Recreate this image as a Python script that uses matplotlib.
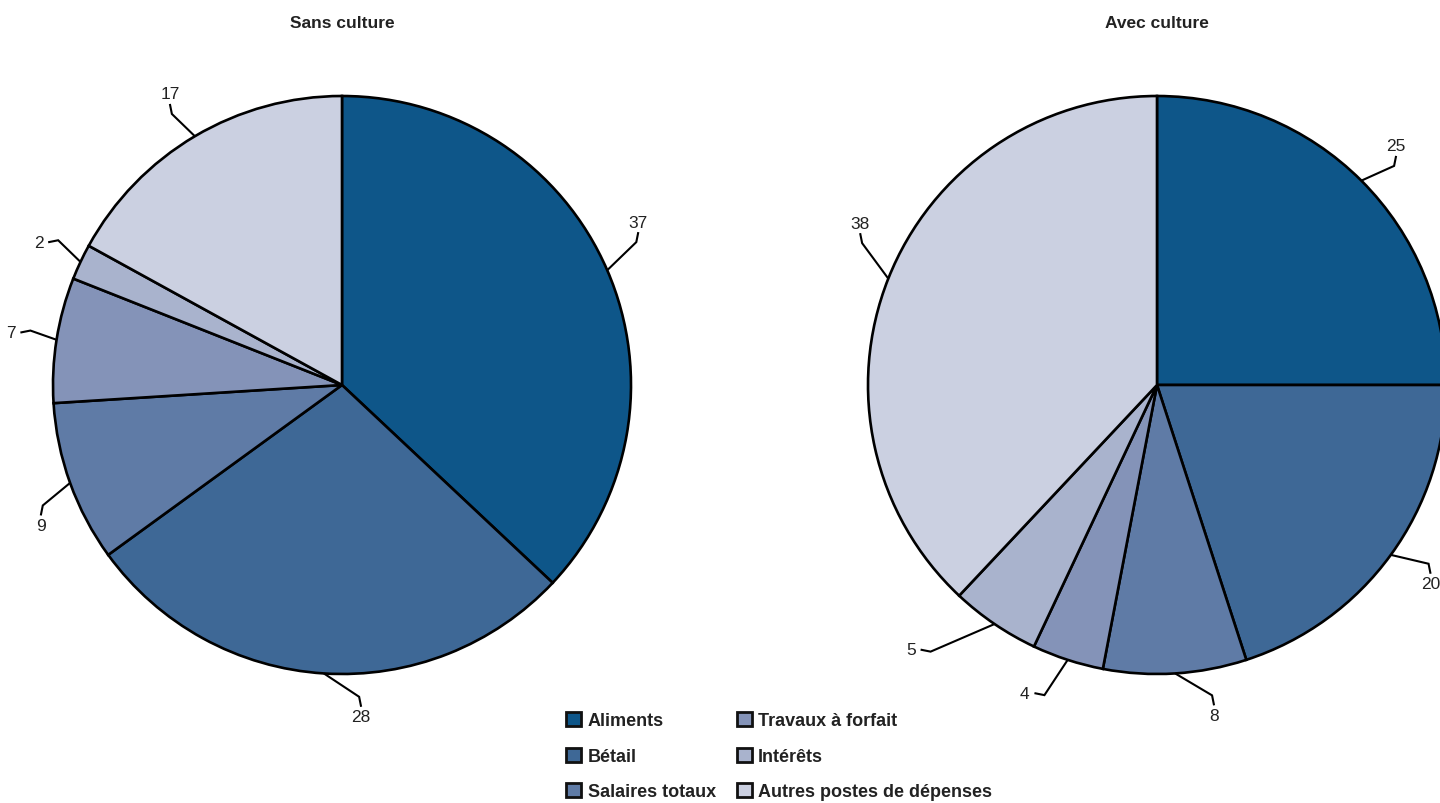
import numpy as np
import matplotlib
matplotlib.use("Agg")
import matplotlib.pyplot as plt
from matplotlib.patches import Patch

plt.rcParams['font.family'] = ['Liberation Sans Narrow', 'Liberation Sans', 'DejaVu Sans']

# Expense shares (%) by category
categories = ["Aliments", "Bétail", "Salaires totaux",
              "Travaux à forfait", "Intérêts", "Autres postes de dépenses"]
sans_culture = [37, 28, 9, 7, 2, 17]
avec_culture = [25, 20, 8, 4, 5, 38]
titles = ["Sans culture", "Avec culture"]

colors = ["#0e5689", "#3e6896", "#5f7ba6", "#8493b8", "#a9b3cd", "#cbd0e1"]

# label placement tweaks (degrees added to slice mid-angle, radius factor)
label_shift = [
    [5.4, 6.9, 5.2, 0.0, 0.0, 0.0],
    [0.0, 0.0, 6.2, -5.2, -8.7, -7.0],
]
label_rad = [
    [1.17, 1.15, 1.15, 1.16, 1.16, 1.17],
    [1.17, 1.17, 1.16, 1.16, 1.25, 1.17],
]

W, H = 1440, 804
fig = plt.figure(figsize=(W / 100, H / 100), dpi=100)
ax = fig.add_axes([0, 0, 1, 1])
ax.set_xlim(0, W)
ax.set_ylim(0, H)
ax.set_aspect('equal')
ax.axis('off')

centers = [(342, H - 386), (1157, H - 386)]
R = 289

for k, (vals, title) in enumerate(zip([sans_culture, avec_culture], titles)):
    cx, cy = centers[k]
    wedges, _ = ax.pie(vals, colors=colors, startangle=90, counterclock=False,
                       center=(cx, cy), radius=R, frame=True,
                       wedgeprops=dict(edgecolor="black", linewidth=1.9))
    ax.text(cx, H - 23, title, ha="center", va="center",
            fontsize=12.5, fontweight="bold", color="#222222")

    total = float(sum(vals))
    start = 90.0
    for i, v in enumerate(vals):
        sweep = 360.0 * v / total
        mid = start - sweep / 2
        start -= sweep
        a_mid = np.deg2rad(mid)
        ex, ey = cx + R * np.cos(a_mid), cy + R * np.sin(a_mid)
        a_lab = np.deg2rad(mid + label_shift[k][i])
        px = cx + label_rad[k][i] * R * np.cos(a_lab)
        py = cy + label_rad[k][i] * R * np.sin(a_lab)
        txt = str(v)
        hw = 4.5 * len(txt) + 5
        hh = 10
        dx, dy = ex - px, ey - py
        if abs(dx) * hh >= abs(dy) * hw:
            sx = np.sign(dx)
            qx, qy = px + sx * hw, py
            bx, by = qx + sx * 10, qy - 2 * np.sign(dy)
        else:
            sy = np.sign(dy)
            qx, qy = px, py + sy * hh
            bx, by = qx + 2 * np.sign(dx), qy + sy * 10
        ax.plot([ex, bx, qx], [ey, by, qy], color="black", lw=1.5,
                solid_capstyle="butt", solid_joinstyle="miter", zorder=1)
        ax.text(px, py, txt, ha="center", va="center", fontsize=12.5,
                color="#222222", clip_on=True)

handles = [Patch(facecolor=c, edgecolor="#111111", linewidth=2.0) for c in colors]
leg = ax.legend(handles, categories, ncol=2, loc="upper left",
                bbox_to_anchor=(566 / W, 1 - 713 / H), frameon=False,
                prop=dict(size=13, weight="bold"), handlelength=0.85,
                handleheight=0.85, handletextpad=0.35, labelspacing=1.0,
                columnspacing=1.15, borderpad=0, borderaxespad=0)
for t in leg.get_texts():
    t.set_color("#222222")

fig.savefig("out.png", dpi=100, facecolor="white")
